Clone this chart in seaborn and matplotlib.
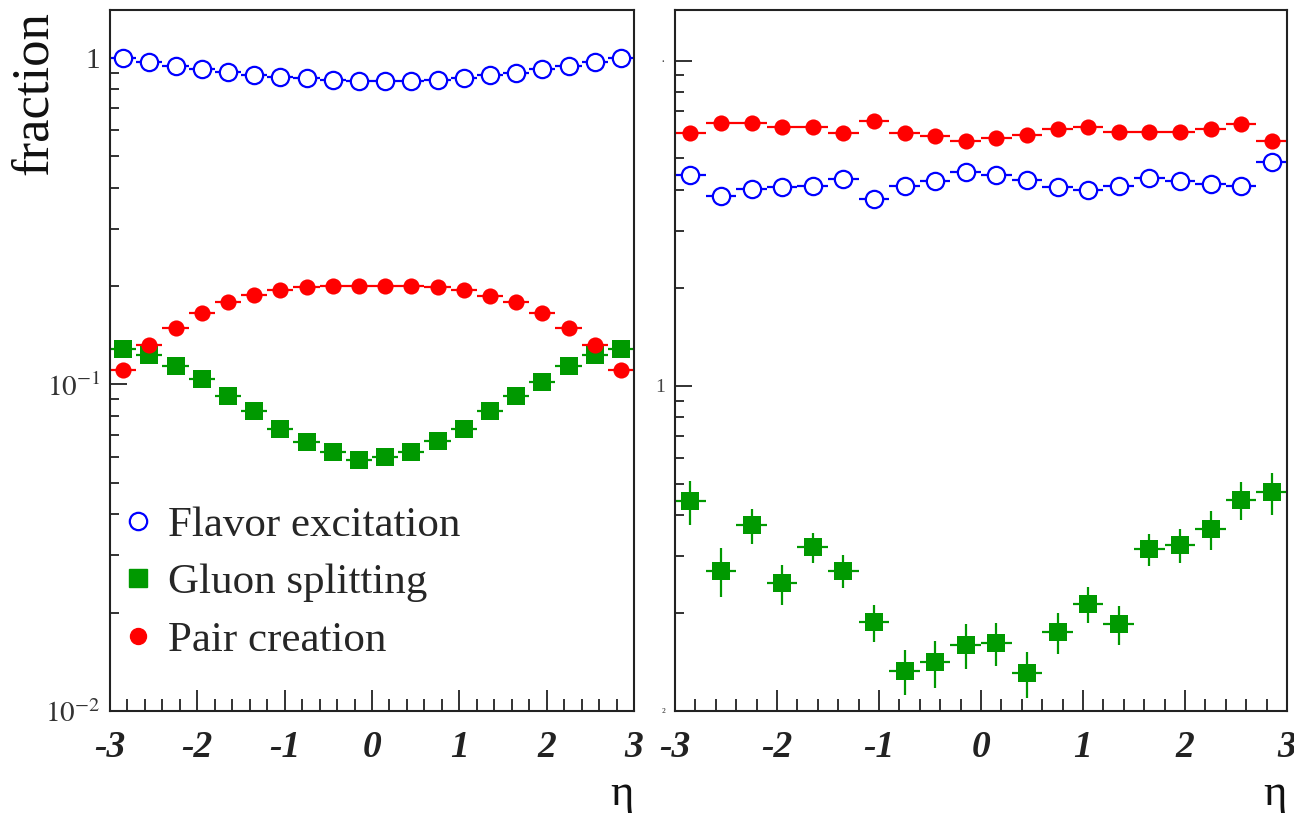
import numpy as np
import pandas as pd
import matplotlib
matplotlib.use("Agg")
import matplotlib.pyplot as plt
import seaborn as sns
from matplotlib.lines import Line2D
from matplotlib.ticker import FixedLocator, LogLocator, MultipleLocator, NullFormatter

# ---------------- data ----------------
eta = [-2.85, -2.55, -2.25, -1.95, -1.65, -1.35, -1.05, -0.75, -0.45, -0.15,
       0.15, 0.45, 0.75, 1.05, 1.35, 1.65, 1.95, 2.25, 2.55, 2.85]
eta_halfwidth = 0.15

left_flavor = [1.0, 0.97, 0.945, 0.925, 0.905, 0.888, 0.87, 0.868, 0.857, 0.851,
               0.851, 0.851, 0.857, 0.868, 0.888, 0.9, 0.925, 0.945, 0.97, 1.0]
left_pair = [0.111, 0.132, 0.149, 0.165, 0.179, 0.188, 0.194, 0.198, 0.2, 0.2,
             0.2, 0.2, 0.199, 0.194, 0.187, 0.179, 0.165, 0.149, 0.132, 0.111]
left_gluon = [0.128, 0.123, 0.1135, 0.1035, 0.092, 0.0826, 0.073, 0.0665, 0.062, 0.0586,
              0.0598, 0.062, 0.067, 0.073, 0.083, 0.092, 0.102, 0.1135, 0.123, 0.128]

right_flavor = [0.446, 0.382, 0.403, 0.408, 0.412, 0.432, 0.374, 0.412, 0.427, 0.453,
                0.446, 0.428, 0.407, 0.401, 0.412, 0.434, 0.427, 0.416, 0.412, 0.486]
right_pair = [0.6, 0.643, 0.643, 0.625, 0.625, 0.599, 0.652, 0.6, 0.588, 0.566,
              0.577, 0.591, 0.616, 0.625, 0.605, 0.605, 0.605, 0.616, 0.637, 0.564]
right_gluon = [0.0441, 0.027, 0.0372, 0.0247, 0.0319, 0.027, 0.01875, 0.0133, 0.0141, 0.016,
               0.0162, 0.0131, 0.0175, 0.0213, 0.0185, 0.0315, 0.0325, 0.0362, 0.0446, 0.047]
right_gluon_err = [0.0069, 0.0046, 0.0045, 0.0035, 0.0034, 0.0031, 0.0024, 0.0021, 0.0023, 0.0025,
                   0.0024, 0.0021, 0.0025, 0.0027, 0.0026, 0.0036, 0.0039, 0.0049, 0.0059, 0.0070]

series_labels = ["Flavor excitation", "Gluon splitting", "Pair creation"]
x_ticks = [-3, -2, -1, 0, 1, 2, 3]
x_ticklabels = ["-3", "-2", "-1", "0", "1", "2", "3"]

BLUE = "#0000ff"
GREEN = "#009900"
RED = "#ff0000"

# ---------------- style ----------------
sns.set_style("ticks")
plt.rcParams["font.family"] = ["Liberation Serif", "DejaVu Serif"]
plt.rcParams["mathtext.fontset"] = "stix"

fig = plt.figure(figsize=(12.94, 8.13), dpi=100)
axL = fig.add_axes([110 / 1294, 102 / 813, 524 / 1294, 701 / 813])
axR = fig.add_axes([675 / 1294, 102 / 813, 612 / 1294, 701 / 813])


def draw_panel(ax, flavor, gluon, pair, gluon_err, ymax):
    ax.set_yscale("log")
    df = pd.DataFrame({"eta": eta, "flavor": flavor, "gluon": gluon, "pair": pair})
    # horizontal (bin width) and vertical error bars
    ax.errorbar(df["eta"], df["flavor"], xerr=eta_halfwidth, fmt="none",
                ecolor=BLUE, elinewidth=1.6, zorder=2)
    ax.errorbar(df["eta"], df["gluon"], xerr=eta_halfwidth, yerr=gluon_err, fmt="none",
                ecolor=GREEN, elinewidth=1.6, zorder=2)
    ax.errorbar(df["eta"], df["pair"], xerr=eta_halfwidth, fmt="none",
                ecolor=RED, elinewidth=1.6, zorder=2)
    sns.scatterplot(data=df, x="eta", y="flavor", ax=ax, marker="o", s=155,
                    facecolor="white", edgecolor=BLUE, linewidth=1.6, zorder=3, legend=False)
    sns.scatterplot(data=df, x="eta", y="gluon", ax=ax, marker="s", s=160,
                    color=GREEN, edgecolor=GREEN, linewidth=0, zorder=3, legend=False)
    sns.scatterplot(data=df, x="eta", y="pair", ax=ax, marker="o", s=135,
                    color=RED, edgecolor=RED, linewidth=0, zorder=4, legend=False)

    ax.set_xlim(-3, 3)
    ax.set_ylim(0.01, ymax)
    ax.set_xlabel("")
    ax.set_ylabel("")
    ax.xaxis.set_major_locator(FixedLocator(x_ticks))
    ax.xaxis.set_minor_locator(MultipleLocator(0.2))
    ax.set_xticklabels(x_ticklabels, fontsize=27, fontweight="bold", fontstyle="italic")
    ax.yaxis.set_major_locator(FixedLocator([0.01, 0.1, 1]))
    ax.yaxis.set_minor_locator(LogLocator(base=10, subs=np.arange(2, 10)))
    ax.yaxis.set_minor_formatter(NullFormatter())

    ax.tick_params(axis="x", which="major", direction="in", length=15, width=1.3,
                   pad=14, top=False, colors="#222222")
    ax.tick_params(axis="x", which="minor", direction="in", length=8.5, width=1.3, top=False,
                   colors="#222222")
    ax.tick_params(axis="y", which="major", direction="in", length=12.5, width=1.3,
                   pad=7, right=False, colors="#222222")
    ax.tick_params(axis="y", which="minor", direction="in", length=6.5, width=1.3, right=False,
                   colors="#222222")
    for sp in ax.spines.values():
        sp.set_visible(True)
        sp.set_linewidth(1.5)
        sp.set_color("#222222")
    ax.text(1.0, -0.118, "η", transform=ax.transAxes, ha="right", va="center",
            fontsize=32, color="#111111")


draw_panel(axL, left_flavor, left_gluon, left_pair, None, 1.40)
draw_panel(axR, right_flavor, right_gluon, right_pair, right_gluon_err, 1.43)

axL.set_yticklabels(["$10^{-2}$", "$10^{-1}$", "1"], fontsize=21, color="#333333")
axR.set_yticklabels(["²", "1", "·"], color="#444444")
for lab, fs in zip(axR.get_yticklabels(), [9, 14, 10]):
    lab.set_fontsize(fs)

fig.text(34 / 1294, 1 - 93 / 813, "fraction", rotation=90, ha="center", va="center",
         fontsize=38, color="#111111")

handles = [
    Line2D([], [], linestyle="none", marker="o", markersize=12.5, markerfacecolor="white",
           markeredgecolor=BLUE, markeredgewidth=1.6),
    Line2D([], [], linestyle="none", marker="s", markersize=12.5, markerfacecolor=GREEN,
           markeredgecolor=GREEN),
    Line2D([], [], linestyle="none", marker="o", markersize=11.5, markerfacecolor=RED,
           markeredgecolor=RED),
]
axL.legend(handles, series_labels, loc="upper left", bbox_to_anchor=(0.013, 0.293),
           frameon=False, fontsize=31, handlelength=1.0, handletextpad=0.2,
           labelspacing=0.43, borderpad=0, borderaxespad=0)

fig.savefig("out.png", dpi=100)
